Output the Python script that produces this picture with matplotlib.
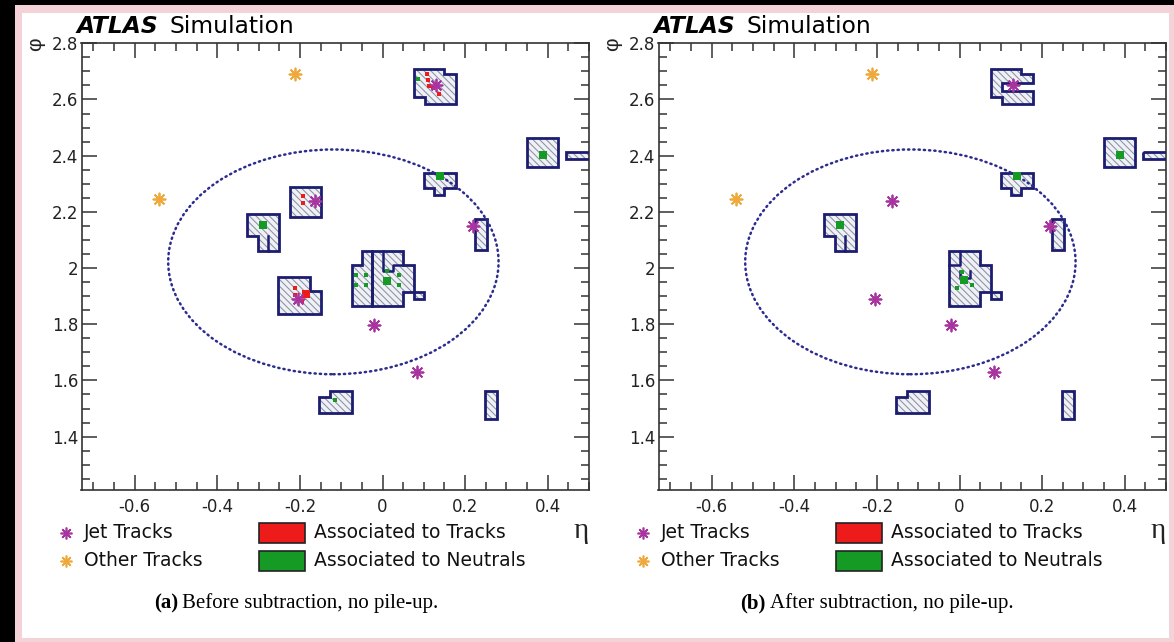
import numpy as np
import matplotlib
matplotlib.use("Agg")
import matplotlib.pyplot as plt
from matplotlib.patches import Polygon, Rectangle, Circle
from matplotlib.lines import Line2D
from matplotlib.ticker import MultipleLocator

# --- data: (eta, phi) outlines of the topo-clusters --------------------------
top_before = [(0.075, 2.71), (0.15, 2.71), (0.15, 2.69), (0.178, 2.69), (0.178, 2.585),
              (0.102, 2.585), (0.102, 2.61), (0.075, 2.61)]
top_after = [(0.075, 2.71), (0.15, 2.71), (0.15, 2.69), (0.178, 2.69), (0.178, 2.66),
             (0.102, 2.66), (0.102, 2.63), (0.178, 2.63), (0.178, 2.585),
             (0.102, 2.585), (0.102, 2.61), (0.075, 2.61)]
right_box = [(0.35, 2.462), (0.425, 2.462), (0.425, 2.36), (0.35, 2.36)]
right_strip = [(0.445, 2.414), (0.53, 2.414), (0.53, 2.387), (0.445, 2.387)]
mid_right = [(0.1, 2.338), (0.177, 2.338), (0.177, 2.285), (0.15, 2.285), (0.15, 2.26),
             (0.124, 2.26), (0.124, 2.285), (0.1, 2.285)]
upper_left = [(-0.225, 2.29), (-0.148, 2.29), (-0.148, 2.181), (-0.225, 2.181)]
far_left = [(-0.329, 2.193), (-0.25, 2.193), (-0.25, 2.062), (-0.302, 2.062),
            (-0.302, 2.115), (-0.329, 2.115)]
thin_strip = [(0.225, 2.175), (0.252, 2.175), (0.252, 2.063), (0.225, 2.063)]
core_left = [(-0.075, 1.865), (-0.075, 2.012), (-0.05, 2.012), (-0.05, 2.062),
             (-0.025, 2.062), (-0.025, 1.865)]
core_right = [(-0.025, 2.062), (0.05, 2.062), (0.05, 2.012), (0.075, 2.012), (0.075, 1.914),
              (0.05, 1.914), (0.05, 1.865), (-0.025, 1.865)]
core_tail = [(0.075, 1.914), (0.1, 1.914), (0.1, 1.889), (0.075, 1.889)]
lower_left = [(-0.252, 1.968), (-0.176, 1.968), (-0.176, 1.917), (-0.148, 1.917),
              (-0.148, 1.838), (-0.252, 1.838)]
bottom = [(-0.153, 1.54), (-0.128, 1.54), (-0.128, 1.564), (-0.074, 1.564),
          (-0.074, 1.485), (-0.153, 1.485)]
bottom_strip = [(0.248, 1.564), (0.278, 1.564), (0.278, 1.462), (0.248, 1.462)]

clusters_before = [top_before, right_box, right_strip, mid_right, upper_left, far_left,
                   thin_strip, core_left, core_right, core_tail, lower_left, bottom,
                   bottom_strip]
clusters_after = [top_after, right_box, right_strip, mid_right, far_left, thin_strip,
                  core_right, core_tail, bottom, bottom_strip]

# inner cluster borders
far_left_split = [(-0.277, 2.115), (-0.277, 2.062)]
core_notch_before = [(0.0, 2.062), (0.0, 1.988), (0.025, 1.988), (0.025, 2.012), (0.05, 2.012)]
core_corner_after = [(-0.025, 2.012), (0.0, 2.012), (0.0, 2.062)]
core_notch_after = [(0.0, 1.99), (0.0, 1.965), (0.025, 1.965), (0.025, 1.99)]
inner_before = [far_left_split, core_notch_before]
inner_after = [far_left_split, core_corner_after, core_notch_after]

# cells associated to tracks / neutrals
red_eta_before = [0.108, 0.110, 0.112, 0.122, 0.137, -0.192, -0.192, -0.212, -0.212, -0.196]
red_phi_before = [2.690, 2.668, 2.648, 2.640, 2.618, 2.258, 2.232, 1.928, 1.905, 1.884]
red_big_eta_before = [-0.186]
red_big_phi_before = [1.908]
green_eta_before = [-0.065, -0.04, -0.065, -0.04, 0.04, 0.04, 0.012, -0.115, 0.085]
green_phi_before = [1.975, 1.975, 1.94, 1.94, 1.975, 1.94, 1.99, 1.53, 2.672]
green_big_eta_before = [0.012, 0.388, 0.139, -0.289]
green_big_phi_before = [1.955, 2.402, 2.327, 2.152]
green_eta_after = [0.005, 0.03, -0.005]
green_phi_after = [1.985, 1.94, 1.93]
green_big_eta_after = [0.012, 0.388, 0.139, -0.289]
green_big_phi_after = [1.957, 2.402, 2.327, 2.152]

# tracks
jet_eta = [0.129, -0.164, -0.204, 0.22, -0.02, 0.083]
jet_phi = [2.651, 2.24, 1.89, 2.15, 1.796, 1.631]
other_eta = [-0.213, -0.542]
other_phi = [2.691, 2.247]

# jet cone
cone_eta, cone_phi, cone_r = -0.119, 2.022, 0.4

x_ticks = [-0.6, -0.4, -0.2, 0.0, 0.2, 0.4]
x_labels = ["-0.6", "-0.4", "-0.2", "0", "0.2", "0.4"]
y_ticks = [1.4, 1.6, 1.8, 2.0, 2.2, 2.4, 2.6, 2.8]
y_labels = ["1.4", "1.6", "1.8", "2", "2.2", "2.4", "2.6", "2.8"]

# --- style ------------------------------------------------------------------
W, H = 1174, 642
SANS = "DejaVu Sans"
SERIF = "Liberation Serif"
NAVY = "#1c1c70"
HATCH = "#8a91a6"
JET = "#a8359f"
OTHER = "#eea93a"
RED = "#ee1b1b"
GREEN = "#159a26"
plt.rcParams["hatch.linewidth"] = 0.75


def fx(px):
    return px / W


def fy(py):
    return 1 - py / H


fig = plt.figure(figsize=(W / 100, H / 100), dpi=100, facecolor="black")
fig.patches.append(Rectangle((fx(15), 0), fx(W - 15), fy(5), transform=fig.transFigure,
                             facecolor="#f3d3d7", edgecolor="none", zorder=-3))
fig.patches.append(Rectangle((fx(22), fy(638)), fx(1169 - 22), (638 - 13) / H,
                             transform=fig.transFigure, facecolor="white",
                             edgecolor="none", zorder=-2))
renderer = fig.canvas.get_renderer()


def text_pair(x, y, s1, kw1, s2, kw2, gap, center=False):
    t1 = fig.text(fx(x), fy(y), s1, **kw1)
    t2 = fig.text(fx(x), fy(y), s2, **kw2)
    w1 = t1.get_window_extent(renderer).width
    w2 = t2.get_window_extent(renderer).width
    x0 = x - (w1 + gap + w2) / 2 if center else x
    t1.set_x(fx(x0))
    t2.set_x(fx(x0 + w1 + gap))


def draw_panel(ox, clusters, inner, red, red_big, green, green_big, tag, caption, cap_x):
    ax = fig.add_axes([fx(81.5 + ox), fy(490), 507.5 / W, 446.7 / H])
    ax.set_xlim(-0.729, 0.5)
    ax.set_ylim(1.21, 2.8)

    for verts in clusters:
        ax.add_patch(Polygon(verts, closed=True, facecolor="#eff1f5", edgecolor=HATCH,
                             lw=0, hatch="\\\\\\\\\\", zorder=2))
    for verts in clusters:
        ax.add_patch(Polygon(verts, closed=True, fill=False, edgecolor=NAVY, lw=2.0,
                             joinstyle="miter", zorder=3))
    for path in inner:
        xs, ys = zip(*path)
        ax.plot(xs, ys, color=NAVY, lw=1.8, zorder=3)

    ax.add_patch(Circle((cone_eta, cone_phi), cone_r, fill=False, edgecolor="#2b2b90",
                        lw=1.8, ls=(0, (0.5, 1.6)), capstyle="round", zorder=4))

    if red[0]:
        ax.scatter(red[0], red[1], marker="s", s=12, color=RED, lw=0, zorder=4)
    if red_big[0]:
        ax.scatter(red_big[0], red_big[1], marker="s", s=34, color=RED, lw=0, zorder=4)
    ax.scatter(green[0], green[1], marker="s", s=5, color=GREEN, lw=0, zorder=4)
    ax.scatter(green_big[0], green_big[1], marker="s", s=30, color=GREEN, lw=0, zorder=4)

    ax.scatter(other_eta, other_phi, marker=(8, 2, 0), s=75, color=OTHER, lw=1.3, zorder=5)
    ax.scatter(jet_eta, jet_phi, marker=(8, 2, 0), s=75, color=JET, lw=1.3, zorder=5)

    ax.set_xticks(x_ticks)
    ax.set_xticklabels(x_labels, family=SANS)
    ax.set_yticks(y_ticks)
    ax.set_yticklabels(y_labels, family=SANS)
    ax.xaxis.set_minor_locator(MultipleLocator(0.05))
    ax.yaxis.set_minor_locator(MultipleLocator(0.05))
    ax.tick_params(which="both", direction="in", top=True, right=True, color="#333333",
                   width=1.1, labelcolor="#222222")
    ax.tick_params(which="major", length=11, labelsize=12)
    ax.tick_params(axis="x", which="major", pad=6)
    ax.tick_params(axis="y", which="major", pad=2.5)
    ax.tick_params(which="minor", length=5.5)
    for sp in ax.spines.values():
        sp.set_linewidth(1.2)
        sp.set_color("#333333")

    # axis titles
    fig.text(fx(36 + ox), fy(44), "φ", rotation=90, fontsize=15, family="Liberation Sans",
             ha="center", va="center", color="#222222")
    fig.text(fx(581 + ox), fy(531), "η", fontsize=21, family=SERIF,
             ha="center", va="center", color="#222222")

    # ATLAS label
    text_pair(77 + ox, 33, "ATLAS", dict(fontsize=16.8, family=SANS, weight="bold",
                                         style="italic", va="baseline"),
              "Simulation", dict(fontsize=16.8, family=SANS, va="baseline"), 11)

    # legend
    for yy, col, lab in [(533, JET, "Jet Tracks"), (561, OTHER, "Other Tracks")]:
        fig.add_artist(Line2D([fx(66 + ox)], [fy(yy)], marker=(8, 2, 0), ms=8.5, mew=1.2,
                              color=col, ls="none", transform=fig.transFigure))
        fig.text(fx(84 + ox), fy(yy), lab, fontsize=13.5, family=SANS, va="center",
                 color="#111111")
    for yy, col, lab in [(533, RED, "Associated to Tracks"),
                         (561, GREEN, "Associated to Neutrals")]:
        fig.add_artist(Rectangle((fx(259 + ox), fy(yy + 10)), 46 / W, 20 / H,
                                 facecolor=col, edgecolor="#222222", lw=1.2,
                                 transform=fig.transFigure))
        fig.text(fx(314 + ox), fy(yy), lab, fontsize=13.5, family=SANS, va="center",
                 color="#111111")

    text_pair(cap_x, 603, tag, dict(fontsize=15, family=SERIF, weight="bold", va="center"),
              caption, dict(fontsize=15, family=SERIF, va="center"), 4, center=True)
    return ax


draw_panel(0, clusters_before, inner_before,
           (red_eta_before, red_phi_before), (red_big_eta_before, red_big_phi_before),
           (green_eta_before, green_phi_before), (green_big_eta_before, green_big_phi_before),
           "(a)", "Before subtraction, no pile-up.", 296)
draw_panel(577, clusters_after, inner_after,
           ([], []), ([], []),
           (green_eta_after, green_phi_after), (green_big_eta_after, green_big_phi_after),
           "(b)", "After subtraction, no pile-up.", 877)

fig.savefig("out.png", dpi=100, facecolor=fig.get_facecolor())
